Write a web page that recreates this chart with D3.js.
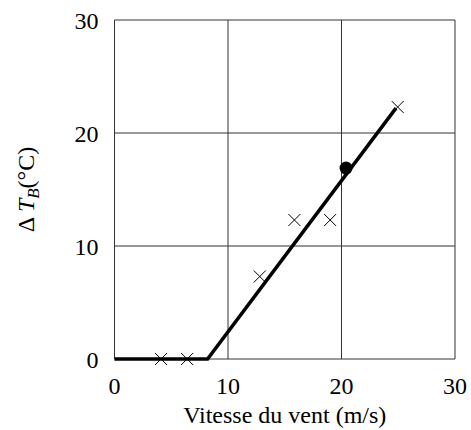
<!DOCTYPE html>
<html><head><meta charset="utf-8">
<script src="https://cdn.jsdelivr.net/npm/d3@7"></script>
<style>body{margin:0;background:#fff}</style>
</head><body>
<svg id="c" width="471" height="430"></svg>
<script>
const xTicks = [0, 10, 20, 30];
const yTicks = [0, 10, 20, 30];
const crossX = [4.1, 6.4, 12.8, 15.85, 19.0, 24.95];
const crossY = [0, 0, 7.3, 12.3, 12.3, 22.3];
const dotX = [20.4];
const dotY = [16.9];
const lineX = [0, 8.2, 24.8];
const lineY = [0, 0, 22.2];

const svg = d3.select('#c');
const L = 114.5, R = 455, T = 20, B = 359;
const x = d3.scaleLinear().domain([0, 30]).range([L, R]);
const y = d3.scaleLinear().domain([0, 30]).range([B, T]);
const font = "'Liberation Serif','Times New Roman',serif";

const g = svg.append('g');
// grid
g.selectAll('.gx').data(xTicks).enter().append('line')
  .attr('x1', d => x(d)).attr('x2', d => x(d)).attr('y1', T).attr('y2', B)
  .attr('stroke', '#333').attr('stroke-width', 1);
g.selectAll('.gy').data(yTicks).enter().append('line')
  .attr('y1', d => y(d)).attr('y2', d => y(d)).attr('x1', L).attr('x2', R)
  .attr('stroke', '#333').attr('stroke-width', 1);

// tick labels
g.selectAll('.tx').data(xTicks).enter().append('text')
  .attr('x', d => x(d)).attr('y', B + 34.5).attr('text-anchor', 'middle')
  .attr('font-family', font).attr('font-size', 24).text(d => d);
g.selectAll('.ty').data(yTicks).enter().append('text')
  .attr('x', 98.5).attr('y', d => y(d) + 8.5).attr('text-anchor', 'end')
  .attr('font-family', font).attr('font-size', 24).text(d => d);

// axis titles
svg.append('text').attr('x', (L + R) / 2).attr('y', 423).attr('text-anchor', 'middle')
  .attr('font-family', font).attr('font-size', 24).text('Vitesse du vent (m/s)');
const yl = svg.append('text').attr('transform', `translate(34,${(T + B) / 2}) rotate(-90)`)
  .attr('text-anchor', 'middle').attr('font-family', font).attr('font-size', 24);
yl.append('tspan').text('Δ ');
yl.append('tspan').attr('font-style', 'italic').text('T');
yl.append('tspan').attr('font-style', 'italic').attr('font-size', 17).attr('dy', 5).text('B');
yl.append('tspan').attr('dy', -5).text('(°C)');

// line
const pts = lineX.map((v, i) => [v, lineY[i]]);
svg.append('path').attr('d', d3.line().x(d => x(d[0])).y(d => y(d[1]))(pts))
  .attr('fill', 'none').attr('stroke', '#000').attr('stroke-width', 3.5);

// crosses
const s = 6;
crossX.forEach((v, i) => {
  const cx = x(v), cy = y(crossY[i]);
  svg.append('path').attr('d', `M${cx - s},${cy - s}L${cx + s},${cy + s}M${cx - s},${cy + s}L${cx + s},${cy - s}`)
    .attr('stroke', '#000').attr('stroke-width', 1);
});
// dot
svg.selectAll('.dot').data(dotX).enter().append('circle')
  .attr('cx', d => x(d)).attr('cy', (d, i) => y(dotY[i])).attr('r', 6.5).attr('fill', '#000');
</script>
</body></html>
